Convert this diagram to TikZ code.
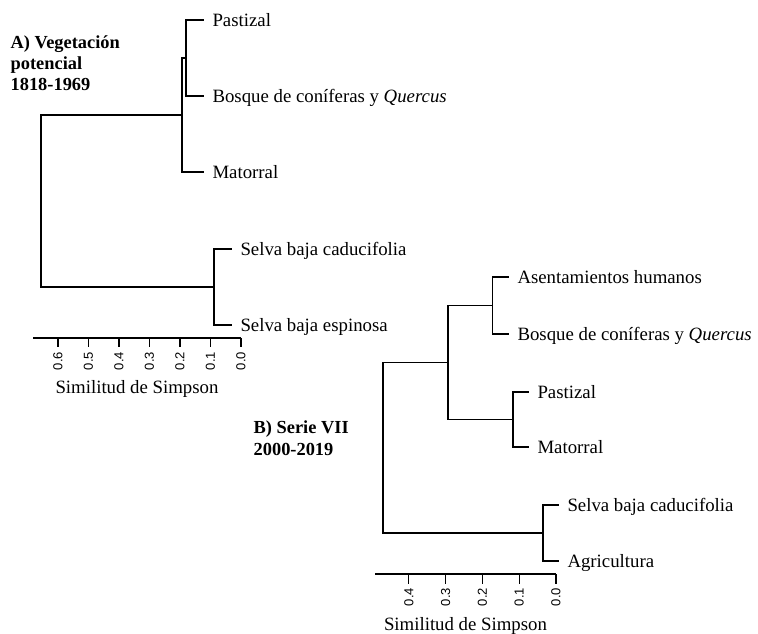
\documentclass[tikz,border=0pt]{standalone}
\usepackage{fontspec}
\setmainfont{Liberation Serif}
\newfontfamily\ticksans{Liberation Sans}
\begin{document}
\begin{tikzpicture}[x=1pt,y=-1pt,line width=1.3pt,
	leaf/.style={anchor=west,inner sep=0pt,outer xsep=8.5pt,outer ysep=0pt,
		text height=12.5pt,text depth=0pt,font=\fontsize{18.8}{22}\selectfont},
	title/.style={anchor=base west,inner sep=0pt,font=\bfseries\fontsize{18.4}{21}\selectfont},
	ticklab/.style={rotate=90,anchor=east,inner sep=0pt,font=\ticksans\fontsize{13}{15}\selectfont},
	axlab/.style={anchor=base,inner sep=0pt,font=\fontsize{18.8}{22}\selectfont}]
	\useasboundingbox(0,0)rectangle(758,634);
	% A) vegetacion potencial
	\node(tA1)[title]at(10,49){A) Vegetación};
	\node(tA2)[title]at(10,70){potencial};
	\node(tA3)[title]at(10,91){1818-1969};
	\node(pastA)[leaf]at(204,20){Pastizal};
	\node(bosqA)[leaf]at(204,96){Bosque de coníferas y \textit{Quercus}};
	\node(matoA)[leaf]at(204,172){Matorral};
	\node(scadA)[leaf]at(232,249){Selva baja caducifolia};
	\node(sespA)[leaf]at(232,325){Selva baja espinosa};
	\coordinate(jA1)at(186,58);
	\coordinate(jA2)at(182,115);
	\coordinate(jA3)at(214,287);
	\coordinate(rA)at(41,201);
	\draw(jA1)|-(pastA.west);
	\draw(jA1)|-(bosqA.west);
	\draw(jA2)|-(jA1);
	\draw(jA2)|-(matoA.west);
	\draw(jA3)|-(scadA.west);
	\draw(jA3)|-(sespA.west);
	\draw(rA)|-(jA2);
	\draw(rA)|-(jA3);
	\coordinate(axA0)at(33,338);
	\coordinate(axA1)at(241,338);
	\draw(axA0)--(axA1);
	\foreach \v in {0,...,6}{
		\draw({241-30.5*\v},338)--++(0,9);
		\node(kA\v)[ticklab]at({241-30.5*\v},351.5){0.\v};
	}
	\node(sA)[axlab]at(137,393){Similitud de Simpson};
	% B) serie VII
	\node(tB1)[title]at(253,433.5){B) Serie VII};
	\node(tB2)[title]at(253,455){2000-2019};
	\node(asenB)[leaf]at(509,277){Asentamientos humanos};
	\node(bosqB)[leaf]at(509,334){Bosque de coníferas y \textit{Quercus}};
	\node(pastB)[leaf]at(529,392){Pastizal};
	\node(matoB)[leaf]at(529,447){Matorral};
	\node(scadB)[leaf]at(559,505){Selva baja caducifolia};
	\node(agriB)[leaf]at(559,561){Agricultura};
	\coordinate(jB1)at(492.5,305.5);
	\coordinate(jB2)at(513,419.5);
	\coordinate(jB3)at(448,362.5);
	\coordinate(jB4)at(543,533);
	\coordinate(rB)at(383,448);
	\draw(jB1)|-(asenB.west);
	\draw(jB1)|-(bosqB.west);
	\draw(jB2)|-(pastB.west);
	\draw(jB2)|-(matoB.west);
	\draw(jB3)|-(jB1);
	\draw(jB3)|-(jB2);
	\draw(jB4)|-(scadB.west);
	\draw(jB4)|-(agriB.west);
	\draw(rB)|-(jB3);
	\draw(rB)|-(jB4);
	\coordinate(axB0)at(375,574);
	\coordinate(axB1)at(556,574);
	\draw(axB0)--(axB1);
	\foreach \v in {0,...,4}{
		\draw({556-36.8*\v},574)--++(0,10);
		\node(kB\v)[ticklab]at({556-36.8*\v},587.5){0.\v};
	}
	\node(sB)[axlab]at(465.5,630){Similitud de Simpson};
\end{tikzpicture}
\end{document}
